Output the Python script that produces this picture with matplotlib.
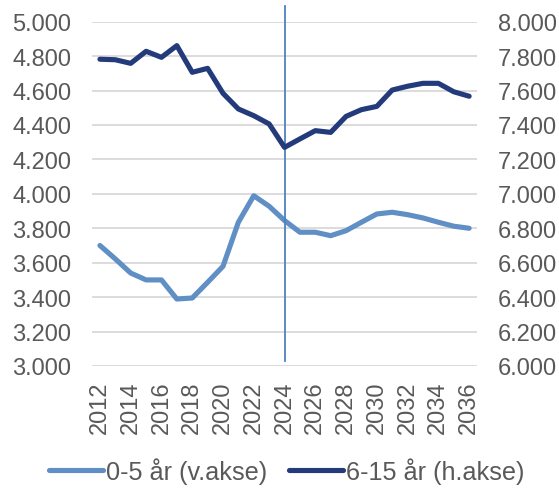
import matplotlib
matplotlib.use("Agg")
import matplotlib.pyplot as plt
from matplotlib.ticker import FuncFormatter, MultipleLocator

years = list(range(2012, 2037))
age_0_5 = [3700, 3622, 3540, 3500, 3500, 3389, 3395, 3486, 3579, 3835, 3989, 3928, 3845,
           3777, 3777, 3757, 3786, 3835, 3883, 3893, 3879, 3860, 3835, 3812, 3800]
age_6_15 = [7782, 7779, 7758, 7828, 7793, 7861, 7706, 7729, 7584, 7493, 7454, 7406, 7270,
            7319, 7367, 7357, 7450, 7489, 7508, 7603, 7625, 7642, 7642, 7593, 7567]
label_0_5 = "0-5 år (v.akse)"
label_6_15 = "6-15 år (h.akse)"
marker_year = 2024

plt.rcParams['font.family'] = ['Liberation Sans', 'DejaVu Sans']
FS = 17
LFS = 18.2
TXT = '#595959'
LIGHT = '#5F8FC5'
DARK = '#233B7B'

fig = plt.figure(figsize=(5.59, 4.89), dpi=100)
ax = fig.add_axes([0.165, 0.2495, 0.688, 0.7041])
ax2 = ax.twinx()

x = list(range(len(years)))
l1, = ax.plot(x, age_0_5, color=LIGHT, lw=3.7, solid_capstyle='round', solid_joinstyle='round', label=label_0_5, zorder=3)
l2, = ax2.plot(x, age_6_15, color=DARK, lw=3.7, solid_capstyle='round', solid_joinstyle='round', label=label_6_15, zorder=3)

vx = years.index(marker_year)
ax.axvline(vx, ymin=0.015, ymax=1.045, color='#4F81BD', lw=1.3, clip_on=False, zorder=4)

ax.set_xlim(-0.5, len(years) - 0.5)
ax.set_ylim(3000, 5000)
ax2.set_ylim(6000, 8000)
ax.yaxis.set_major_locator(MultipleLocator(200))
ax2.yaxis.set_major_locator(MultipleLocator(200))
fmt = FuncFormatter(lambda v, p: f"{int(round(v)):,}".replace(",", "."))
ax.yaxis.set_major_formatter(fmt)
ax2.yaxis.set_major_formatter(fmt)

ax.set_xticks(x[::2])
ax.set_xticklabels([str(y) for y in years[::2]], rotation=90)

ax.grid(axis='y', color='#D9D9D9', lw=1.3)
ax.set_axisbelow(True)
for a in (ax, ax2):
    for s in a.spines.values():
        s.set_visible(False)
    a.tick_params(length=0, labelsize=FS, labelcolor=TXT)
ax.tick_params(axis='y', pad=15)
ax2.tick_params(axis='y', pad=15)
ax.tick_params(axis='x', pad=10.5)

fig.legend(handles=[l1, l2], loc='center', bbox_to_anchor=(0.513, 1 - 472/489), ncol=2,
           frameon=False, fontsize=LFS, labelcolor=TXT, handlelength=2.13, handletextpad=0.12,
           columnspacing=0.87, borderpad=0, borderaxespad=0)

fig.savefig('out.png', dpi=100)
